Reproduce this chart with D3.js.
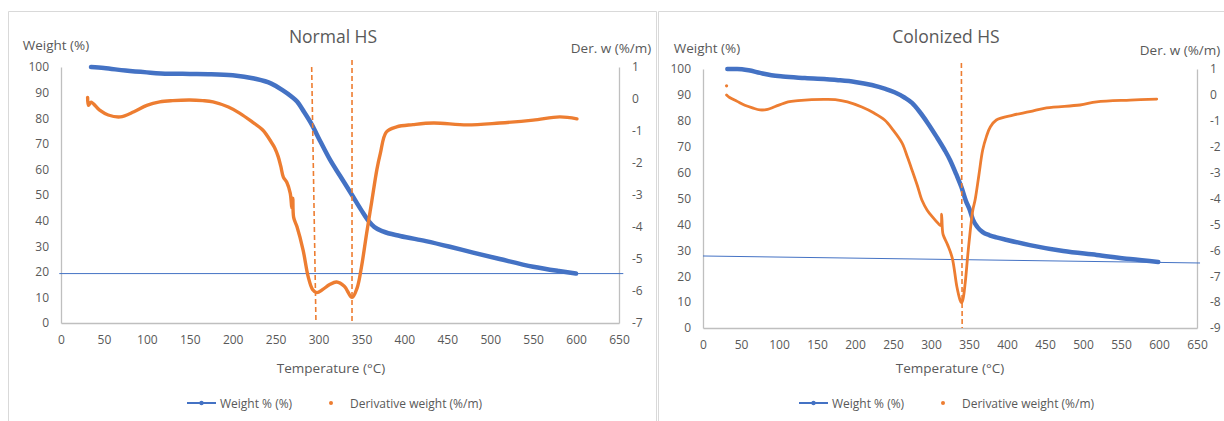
<!DOCTYPE html>
<html>
<head>
<meta charset="utf-8">
<script src="https://cdn.jsdelivr.net/npm/d3@7"></script>
<style>
  body { margin: 0; background: #fff; }
  text { font-family: "Open Sans", sans-serif; fill: #595959; }
</style>
</head>
<body>
<svg id="chart" width="1224" height="421"></svg>
<script>
// temperature (°C), weight (%)
var normalWeight = [[35,100],[50,99.6],[75,98.6],[100,97.9],[125,97.4],[150,97.3],[175,97.2],[200,96.8],[225,95.5],[245,93.5],[258,91],[268,88.6],[275,86.5],[283,82.5],[292,77.6],[302,71],[313,64],[325,57.5],[339,50],[350,44],[358,40],[365,37.5],[375,35.8],[395,34],[425,32],[453,29.8],[480,27.5],[511,25],[550,22],[580,20.3],[600,19.3]];
// temperature (°C), derivative weight (%/m)
var normalDeriv = [[31,0.05],[32,-0.2],[35,-0.1],[45,-0.35],[55,-0.5],[69,-0.56],[85,-0.4],[100,-0.2],[115,-0.09],[130,-0.05],[150,-0.03],[165,-0.05],[177,-0.09],[195,-0.25],[208,-0.44],[222,-0.7],[235,-0.97],[245,-1.35],[249,-1.53],[253,-1.8],[256,-2.1],[259,-2.44],[263,-2.6],[267,-2.94],[269,-3.4],[270,-3.1],[271,-3.7],[275,-4.0],[282,-4.72],[288,-5.56],[293,-5.95],[298,-6.05],[305,-5.95],[313,-5.8],[321,-5.72],[330,-5.85],[339,-6.2],[345,-5.9],[350,-5.25],[356,-4.2],[362,-3.2],[368,-2.2],[372,-1.7],[379,-1.03],[391,-0.87],[410,-0.8],[434,-0.75],[473,-0.81],[511,-0.75],[550,-0.66],[581,-0.56],[601,-0.62]];
var normalTrend = [[-2,19.3],[655,19.3]];
// dashed markers: [temp top, weight top, temp bottom]
var normalPeaks = [[292,100,297],[339,102.7,339]];

var colonWeight = [[32,100],[45,100],[60,99.5],[75,98.5],[90,97.6],[105,97.1],[134,96.5],[178,95.7],[200,95],[222,93.8],[240,92.3],[252,91],[265,89],[275,86.9],[285,83.5],[296,79],[307,74],[318,68.7],[325,64.9],[333,59.5],[340,54.4],[346,49],[351,45.6],[355,42],[361,39],[368,37],[377,35.8],[386,35],[400,34],[430,32],[474,29.7],[518,28.2],[562,26.6],[599,25.5]];
var colonDeriv = [[31,0.0],[35,-0.1],[45,-0.25],[55,-0.4],[65,-0.5],[75,-0.58],[85,-0.56],[95,-0.45],[112,-0.27],[125,-0.22],[143,-0.18],[160,-0.17],[174,-0.18],[190,-0.27],[209,-0.47],[225,-0.7],[239,-0.97],[250,-1.35],[262,-1.86],[269,-2.4],[275,-2.9],[282,-3.5],[288,-4.06],[295,-4.45],[303,-4.75],[309,-4.95],[313,-5.05],[314,-4.6],[315,-5.2],[316,-5.4],[322,-5.8],[328,-6.3],[334,-7.4],[338,-7.9],[340,-8.03],[342,-7.9],[345,-7.26],[349,-6.0],[355,-4.45],[358,-4.06],[363,-3.1],[368,-2.13],[373,-1.6],[378,-1.24],[386,-0.97],[408,-0.78],[430,-0.65],[452,-0.5],[496,-0.39],[518,-0.27],[562,-0.2],[597,-0.16]];
var colonDerivExtra = [[31,0.35]];
var colonTrend = [[0,27.8],[654,25.1]];
var colonPeaks = [[340,102.3,341]];

var tempTicks = d3.range(0, 651, 50);
var weightTicks = d3.range(0, 101, 10);

var blue = "#4472C4", orange = "#ED7D31", axisGrey = "#bfbfbf";
var svg = d3.select("#chart");

// panel frames
svg.append("path").attr("d", "M8.5,421V11.5H656.5V421").attr("fill", "none").attr("stroke", "#d9d9d9");
svg.append("path").attr("d", "M658.5,421V11.5H1230").attr("fill", "none").attr("stroke", "#d9d9d9");

function drawChart(c) {
  var g = svg.append("g");
  var x = d3.scaleLinear().domain([0, 650]).range([c.left, c.right]);
  var y = d3.scaleLinear().domain([0, 100]).range([c.bottom, c.top]);
  var y2 = d3.scaleLinear().domain(c.derivDomain).range([c.bottom, c.top]);

  // axes
  var xa = g.append("g").attr("transform", "translate(0," + c.bottom + ")")
    .call(d3.axisBottom(x).tickValues(tempTicks).tickSize(0).tickPadding(12));
  var ya = g.append("g").attr("transform", "translate(" + c.left + ",0)")
    .call(d3.axisLeft(y).tickValues(weightTicks).tickSize(0).tickPadding(12));
  var ya2 = g.append("g").attr("transform", "translate(" + c.right + ",0)")
    .call(d3.axisRight(y2).ticks(c.derivDomain[1] - c.derivDomain[0]).tickFormat(d => String(d)).tickSize(0).tickPadding(13));
  [xa, ya, ya2].forEach(function(a) {
    a.select(".domain").attr("stroke", axisGrey).attr("stroke-width", 1.3);
    a.selectAll("text").attr("font-size", 12).attr("fill", "#595959").attr("font-family", "Open Sans");
  });
  ya2.selectAll("text").attr("text-anchor", "start");

  // trendline
  g.append("path").datum(c.trend)
    .attr("fill", "none").attr("stroke", blue).attr("stroke-width", 1)
    .attr("d", d3.line().x(d => x(d[0])).y(d => y(d[1])));

  // weight curve
  g.append("path").datum(c.weight)
    .attr("fill", "none").attr("stroke", blue).attr("stroke-width", 4.5)
    .attr("stroke-linecap", "round").attr("stroke-linejoin", "round")
    .attr("d", d3.line().curve(d3.curveMonotoneX).x(d => x(d[0])).y(d => y(d[1])));

  // derivative curve (dense scatter in original)
  g.append("path").datum(c.deriv)
    .attr("fill", "none").attr("stroke", orange).attr("stroke-width", c.derivWidth)
    .attr("stroke-linecap", "round").attr("stroke-linejoin", "round")
    .attr("d", d3.line().curve(d3.curveCatmullRom).x(d => x(d[0])).y(d => y2(d[1])));
  g.selectAll(".extra").data(c.extra || []).enter().append("circle")
    .attr("cx", d => x(d[0])).attr("cy", d => y2(d[1])).attr("r", 1.6).attr("fill", orange);

  // peak markers
  g.selectAll(".peak").data(c.peaks).enter().append("line")
    .attr("x1", d => x(d[0])).attr("y1", d => y(d[1]))
    .attr("x2", d => x(d[2])).attr("y2", y(0))
    .attr("stroke", orange).attr("stroke-width", 1.6).attr("stroke-dasharray", "5,3");

  // titles
  g.append("text").attr("x", c.titleX).attr("y", 43).attr("text-anchor", "middle")
    .attr("font-size", 17.5).text(c.title);
  g.append("text").attr("x", c.wLabelX).attr("y", c.wLabelY).attr("text-anchor", "middle")
    .attr("font-size", 13.5).text("Weight (%)");
  g.append("text").attr("x", c.dLabelX).attr("y", c.dLabelY).attr("text-anchor", "middle")
    .attr("font-size", 13.5).text("Der. w (%/m)");
  g.append("text").attr("x", c.xLabelX).attr("y", 373).attr("text-anchor", "middle")
    .attr("font-size", 13.5).text("Temperature (°C)");

  // legend
  var ly = 403;
  g.append("line").attr("x1", c.legendX).attr("x2", c.legendX + 29).attr("y1", ly).attr("y2", ly)
    .attr("stroke", blue).attr("stroke-width", 2);
  g.append("circle").attr("cx", c.legendX + 14.5).attr("cy", ly).attr("r", 2.2).attr("fill", blue);
  g.append("text").attr("x", c.legendX + 33).attr("y", ly + 4.5).attr("font-size", 12).text("Weight % (%)");
  g.append("circle").attr("cx", c.legendX + 144).attr("cy", ly).attr("r", 2).attr("fill", orange);
  g.append("text").attr("x", c.legendX + 163).attr("y", ly + 4.5).attr("font-size", 12).text("Derivative weight (%/m)");
}

drawChart({
  left: 61, right: 619, top: 67, bottom: 323, derivDomain: [-7, 1], derivWidth: 3.4,
  weight: normalWeight, deriv: normalDeriv, trend: normalTrend, peaks: normalPeaks,
  title: "Normal HS", titleX: 333, wLabelX: 56, wLabelY: 50, dLabelX: 611, dLabelY: 53,
  xLabelX: 331, legendX: 187
});
drawChart({
  left: 703, right: 1197, top: 69, bottom: 328, derivDomain: [-9, 1], derivWidth: 2.8,
  weight: colonWeight, deriv: colonDeriv, extra: colonDerivExtra, trend: colonTrend, peaks: colonPeaks,
  title: "Colonized HS", titleX: 946, wLabelX: 707, wLabelY: 53, dLabelX: 1180, dLabelY: 55,
  xLabelX: 950, legendX: 799
});
</script>
</body>
</html>
